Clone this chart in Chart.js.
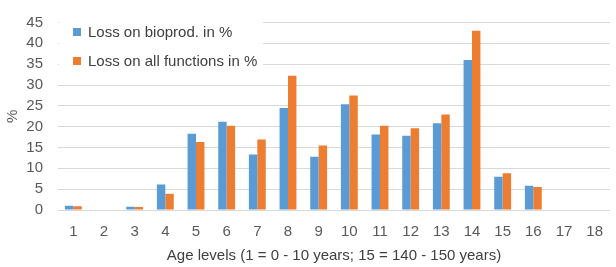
<!DOCTYPE html>
<html>
<head>
<meta charset="utf-8">
<script src="https://cdn.jsdelivr.net/npm/chart.js@4/dist/chart.umd.min.js"></script>
<style>
html,body{margin:0;padding:0;background:#fff;}
#wrap{width:616px;height:267px;position:relative;}
</style>
</head>
<body>
<div id="wrap"><canvas id="c" width="616" height="267"></canvas></div>
<script>
const categories = ["1","2","3","4","5","6","7","8","9","10","11","12","13","14","15","16","17","18"];
const seriesNames = ["Loss on bioprod. in %", "Loss on all functions in %"];
const bioprod = [1.0, 0, 0.8, 6.1, 18.3, 21.2, 13.3, 24.5, 12.8, 25.4, 18.1, 17.8, 20.8, 36.0, 8.0, 5.8, 0, 0];
const allFunctions = [0.9, 0, 0.7, 3.9, 16.3, 20.2, 16.9, 32.2, 15.5, 27.5, 20.2, 19.6, 22.9, 43.0, 8.8, 5.5, 0, 0];
const yTicks = [0, 5, 10, 15, 20, 25, 30, 35, 40, 45];
const xTitle = "Age levels (1 = 0 - 10 years; 15 = 140 - 150 years)";
const yTitle = "%";

const FONT = "'Liberation Sans', Arial, sans-serif";
const TXT = "#595959";

const legendPlugin = {
  id: 'insideLegend',
  afterDraw(chart) {
    const ctx = chart.ctx;
    ctx.save();
    ctx.fillStyle = '#ffffff';
    ctx.fillRect(59, 13, 204, 66);
    const rows = [32, 61];
    chart.data.datasets.forEach((ds, i) => {
      ctx.fillStyle = ds.backgroundColor;
      ctx.fillRect(73, rows[i] - 4, 8, 8);
      ctx.fillStyle = '#404040';
      ctx.font = "15px " + FONT;
      ctx.textBaseline = 'middle';
      ctx.textAlign = 'left';
      ctx.fillText(ds.label, 88, rows[i] + 1);
    });
    ctx.restore();
  }
};

new Chart(document.getElementById('c'), {
  type: 'bar',
  data: {
    labels: categories,
    datasets: [
      { label: seriesNames[0], data: bioprod, backgroundColor: '#5B9BD5', categoryPercentage: 0.55, barPercentage: 1.0 },
      { label: seriesNames[1], data: allFunctions, backgroundColor: '#ED7D31', categoryPercentage: 0.55, barPercentage: 1.0 }
    ]
  },
  options: {
    responsive: false,
    animation: false,
    devicePixelRatio: 1,
    layout: { padding: { top: 19, right: 0, left: 0, bottom: 0 } },
    plugins: { legend: { display: false }, tooltip: { enabled: false } },
    scales: {
      x: {
        grid: { display: false, drawTicks: false },
        border: { display: false },
        ticks: { color: TXT, font: { family: FONT, size: 15 }, padding: 13, maxRotation: 0, autoSkip: false },
        title: { display: true, text: xTitle, color: '#404040', font: { family: FONT, size: 15 }, padding: { top: 0, bottom: 2 } },
        afterFit(s) { s.height = 57; }
      },
      y: {
        min: 0, max: 45,
        afterBuildTicks(s) { s.ticks = yTicks.map(v => ({ value: v })); },
        grid: { color: '#d9d9d9', lineWidth: 1, drawTicks: false },
        border: { display: false },
        ticks: { color: TXT, font: { family: FONT, size: 15, lineHeight: 1 }, padding: 15, autoSkip: false },
        title: { display: true, text: yTitle, color: TXT, font: { family: FONT, size: 15 }, padding: { top: 4, bottom: 0 } },
        afterFit(s) { s.width = 58; }
      }
    }
  },
  plugins: [legendPlugin]
});
</script>
</body>
</html>
